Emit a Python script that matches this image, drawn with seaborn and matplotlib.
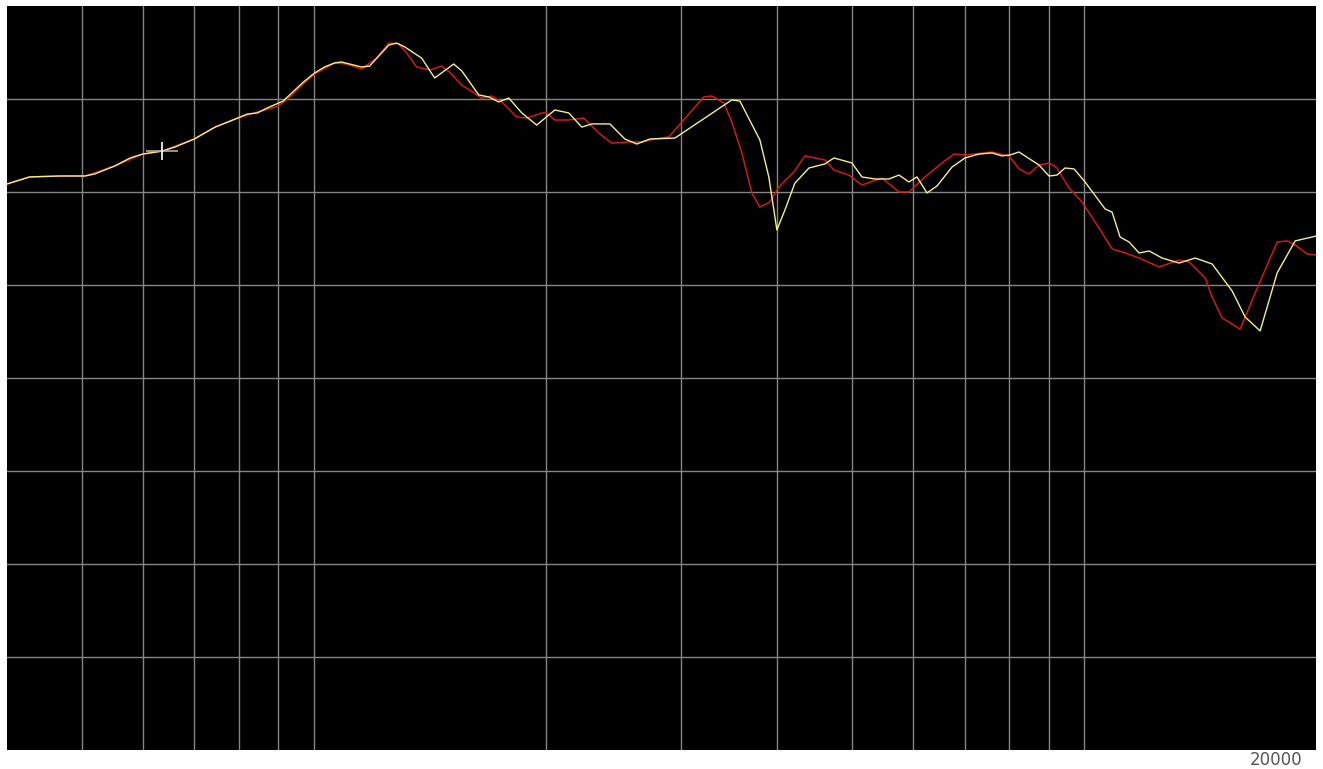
import numpy as np
import pandas as pd
import matplotlib
matplotlib.use("Agg")
import matplotlib.pyplot as plt
import seaborn as sns

# -------------------------------
# DATA
# -------------------------------
yellow_freq = [400, 428, 469, 505, 520, 552, 578, 600, 636, 661, 700, 745, 791, 820, 845,
               871, 913, 970, 1003, 1033, 1065, 1087, 1154, 1182, 1252, 1282, 1313, 1381,
               1436, 1520, 1557, 1638, 1688, 1739, 1792, 1863, 1948, 2056, 2144, 2229, 2297,
               2424, 2535, 2627, 2732, 2944, 3191, 3490, 3575, 3795, 3898, 3993, 4090, 4214,
               4395, 4610, 4735, 4997, 5149, 5353, 5581, 5751, 5925, 6069, 6253, 6443, 6739,
               7005, 7305, 7595, 7825, 8014, 8233, 8740, 9006, 9223, 9446, 9705, 10030, 10648,
               10873, 11136, 11441, 11788, 12146, 12627, 13286, 13937, 14663, 15566, 16183,
               16925, 17808, 18791, 20000]
yellow_db = [-9.57, -9.19, -9.14, -9.14, -9.03, -8.60, -8.17, -7.96, -7.80, -7.58, -7.15,
             -6.51, -6.08, -5.81, -5.75, -5.48, -5.11, -4.09, -3.60, -3.28, -3.06, -3.01,
             -3.28, -3.23, -2.10, -1.99, -2.20, -2.80, -3.87, -3.12, -3.49, -4.78, -4.89,
             -5.16, -4.95, -5.75, -6.40, -5.59, -5.75, -6.51, -6.34, -6.34, -7.15, -7.42,
             -7.15, -7.10, -6.13, -5.05, -5.11, -7.20, -9.19, -12.04, -10.97, -9.52, -8.71,
             -8.49, -8.17, -8.44, -9.19, -9.30, -9.30, -9.09, -9.46, -9.19, -10.05, -9.68,
             -8.66, -8.17, -7.96, -7.90, -8.06, -8.01, -7.85, -8.55, -9.14, -9.09, -8.71,
             -8.76, -9.46, -10.91, -11.08, -12.42, -12.69, -13.28, -13.17, -13.55, -13.82,
             -13.55, -13.87, -15.32, -16.72, -17.47, -14.35, -12.63, -12.37]

red_freq = [400, 428, 469, 505, 552, 600, 636, 700, 745, 791, 845, 900, 932, 970, 1003,
            1065, 1104, 1154, 1207, 1252, 1290, 1321, 1361, 1415, 1466, 1501, 1557, 1653,
            1703, 1755, 1835, 1891, 1978, 2007, 2056, 2144, 2242, 2345, 2438, 2565, 2667,
            2773, 2891, 3006, 3210, 3288, 3408, 3490, 3596, 3705, 3795, 3910, 4017, 4202,
            4342, 4610, 4735, 4952, 5149, 5466, 5751, 5925, 6216, 6540, 6779, 7005, 7595,
            7778, 7990, 8233, 8483, 8740, 9006, 9223, 9560, 9940, 10459, 10873, 11305,
            11788, 12512, 13286, 13689, 14360, 14663, 15107, 15943, 16676, 17808, 18348,
            18791, 19482, 20000]
red_db = [-9.57, -9.19, -9.14, -9.14, -8.60, -7.96, -7.80, -7.15, -6.51, -6.08, -5.70,
          -5.38, -4.89, -4.19, -3.66, -3.06, -3.12, -3.39, -2.80, -1.99, -2.04, -2.53,
          -3.28, -3.44, -3.23, -3.55, -4.25, -4.95, -4.84, -5.16, -5.97, -6.02, -5.75,
          -5.75, -6.13, -6.13, -6.02, -6.83, -7.37, -7.31, -7.31, -7.15, -7.04, -6.24,
          -4.89, -4.84, -5.22, -6.24, -7.90, -10.05, -10.81, -10.54, -9.73, -8.92, -8.06,
          -8.28, -8.82, -9.09, -9.62, -9.25, -10.00, -10.00, -9.19, -8.44, -7.96, -8.01,
          -7.85, -7.96, -8.06, -8.76, -9.03, -8.55, -8.44, -8.71, -9.78, -10.54, -11.94,
          -13.06, -13.28, -13.55, -14.03, -13.66, -13.76, -14.62, -15.65, -16.77, -17.37,
          -15.43, -12.69, -12.63, -12.85, -13.33, -13.39]

grid_freq = [500, 600, 700, 800, 900, 1000, 2000, 3000, 4000, 5000, 6000, 7000, 8000,
             9000, 10000]
grid_db = [-35, -30, -25, -20, -15, -10, -5]

cursor_freq = 636
cursor_db = -7.80

# -------------------------------
# PLOT
# -------------------------------
sns.set_style("white")

fig = plt.figure(figsize=(13.23, 7.69), dpi=100)
ax = fig.add_axes([7 / 1323, 19 / 769, 1309 / 1323, 744 / 769])
ax.set_facecolor("black")

sns.lineplot(x=red_freq, y=red_db, ax=ax, color="#d01a1a", linewidth=1.1,
             estimator=None, sort=False)
sns.lineplot(x=yellow_freq, y=yellow_db, ax=ax, color="#f2f08e", linewidth=1.0,
             estimator=None, sort=False)

# cursor cross
ax.plot([cursor_freq], [cursor_db], marker="_", markersize=23, markeredgewidth=1.2,
        color="#a8b09a")
ax.plot([cursor_freq], [cursor_db], marker="|", markersize=13, markeredgewidth=1.2,
        color="white")

ax.set_xscale("log")
ax.set_xlim(400, 20000)
ax.set_ylim(-40, 0)
ax.set_xticks(grid_freq)
ax.set_xticks([], minor=True)
ax.set_yticks(grid_db)
ax.grid(True, color="#858585", linewidth=1.0)
ax.tick_params(length=0, labelbottom=False, labelleft=False)
ax.set_xlabel("")
ax.set_ylabel("")
for s in ax.spines.values():
    s.set_visible(False)

fig.text(1276 / 1323, 1 - 760 / 769, "20000", ha="center", va="center",
         fontsize=12, color="#555555")

fig.savefig("out.png", dpi=100, facecolor="white")
